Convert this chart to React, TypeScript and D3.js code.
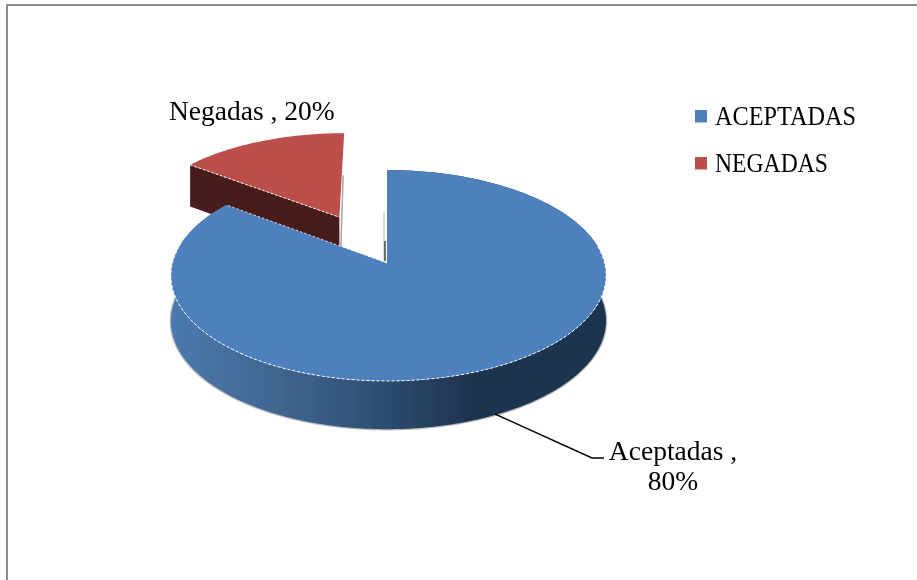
import * as d3 from "d3";

const width = 917;
const height = 580;

// legend names, and the text printed on the slices
const categories = ["ACEPTADAS", "NEGADAS"];
const legendWidths = [141, 113];
const sliceLabels = ["Aceptadas ,", "Negadas , 20%"];
const secondLine = "80%";
// shares as they are actually drawn (the printed labels say 80 / 20)
const sliceShares = [85.2, 14.8];
const explode = [0, 0.52];

const topColors = ["#4e80bc", "#bd4f4b"];
const fontFamily = "'Liberation Serif', serif";

// perspective tilt of the pie: unit circle -> screen
const origin = { x: 387, y: 263 };
const scaleU = 216;
const scaleV = 104;
const tilt = -0.1185;

type Pt = [number, number];

function project(u: number, v: number, drop = 0): Pt {
    const w = 1 + tilt * v;
    const depth = drop ? 45 + 3.2 * v : 0;
    // the rim sits a bit right of the apex in the reference, hence the u*u term
    return [origin.x + (scaleU * u) / w + 1.5 * u * u, origin.y + (scaleV * v) / w + depth];
}

function rimPoints(a0: number, a1: number, off: Pt, drop = 0): Pt[] {
    const n = Math.max(2, Math.ceil(Math.abs(a1 - a0) * 60));
    return d3
        .range(n + 1)
        .map((i) => a0 + ((a1 - a0) * i) / n)
        .map((a) => project(off[0] + Math.sin(a), off[1] - Math.cos(a), drop));
}

const line = d3.line<Pt>();

export default function App() {
    const arcs = d3.pie<number>().sort(null)(sliceShares);

    const offsets: Pt[] = arcs.map((d, i) => {
        const mid = (d.startAngle + d.endAngle) / 2;
        return [Math.sin(mid) * explode[i], -Math.cos(mid) * explode[i]];
    });

    const blue = arcs[0];
    const red = arcs[1];
    const redOff = offsets[1];

    // top faces
    const topPath = (i: number) => {
        const d = arcs[i];
        const c = project(offsets[i][0], offsets[i][1]);
        return line([c, ...rimPoints(d.startAngle, d.endAngle, offsets[i])]) + "Z";
    };

    // round wall of the big slice
    const blueRim = rimPoints(blue.startAngle, blue.endAngle, offsets[0]);
    const blueRimLow = rimPoints(blue.startAngle, blue.endAngle, offsets[0], 1);
    const blueWall = line([...blueRim, ...blueRimLow.reverse()]) + "Z";
    const blueLow = rimPoints(Math.PI * 0.3, blue.endAngle - 0.4, offsets[0], 1);

    // front edge of the big slice, with the white dashes
    const blueFront = line(rimPoints(Math.PI * 0.45, Math.PI * 1.56, offsets[0]));
    const blueCut = line([
        project(0, 0),
        project(Math.sin(blue.endAngle), -Math.cos(blue.endAngle)),
    ]);

    // cut wall of the small slice
    const redCentre = project(redOff[0], redOff[1]);
    const redCentreLow = project(redOff[0], redOff[1], 1);
    const redCorner = project(
        redOff[0] + Math.sin(red.startAngle),
        redOff[1] - Math.cos(red.startAngle)
    );
    const redCornerLow = project(
        redOff[0] + Math.sin(red.startAngle),
        redOff[1] - Math.cos(red.startAngle),
        1
    );
    const redWall = line([redCorner, redCentre, redCentreLow, redCornerLow]) + "Z";
    const redEdge = line([redCorner, redCentre]);

    // thin grey slivers next to the two vertical cuts
    const redTopRight = project(redOff[0], redOff[1] - 1);
    const blueTop = project(0, -1);

    return (
        <svg
            width={width}
            height={height}
            style={{ position: "absolute", left: 0, top: 0, background: "#fff" }}
            fontFamily={fontFamily}
        >
            <defs>
                <linearGradient id="wall" gradientUnits="userSpaceOnUse" x1={172} x2={606} y1={0} y2={0}>
                    <stop offset="0" stopColor="#4b79ae" />
                    <stop offset="0.25" stopColor="#3f668f" />
                    <stop offset="0.5" stopColor="#2d4b70" />
                    <stop offset="0.68" stopColor="#1f3450" />
                    <stop offset="1" stopColor="#1f3450" />
                </linearGradient>
                <filter id="soft" x="0" y="0" width="100%" height="100%">
                    <feGaussianBlur stdDeviation={0.45} />
                </filter>
            </defs>

            <path d="M917,5H7V580" fill="none" stroke="#8c8c8c" strokeWidth={2} />

            <g filter="url(#soft)">
                <path d={redWall} fill="#4a1e1c" />
                <path d={topPath(1)} fill={topColors[1]} />
                <path d={redEdge ?? ""} fill="none" stroke="#fff" strokeWidth={1} strokeDasharray="2.5 2" />
                <path
                    d={`M${redTopRight[0] - 1},${redTopRight[1] + 42}L${redCentreLow[0] + 1},${redCentreLow[1]}`}
                    fill="none"
                    stroke="#a8a8a8"
                    strokeWidth={1.5}
                />
                <path
                    d={`M${blueTop[0] - 3},${blueTop[1] + 42}L${origin.x - 3},${origin.y - 2}`}
                    fill="none"
                    stroke="#b4b4b4"
                    strokeWidth={1}
                />
                <path
                    d={`M${origin.x - 2},${origin.y - 22}L${origin.x - 2},${origin.y - 2}`}
                    fill="none"
                    stroke="#3a4654"
                    strokeWidth={1.5}
                />

                <path d={line(blueLow) ?? ""} fill="none" stroke="#b9b9b9" strokeWidth={2.5} />
                <path d={blueWall} fill="url(#wall)" />
                <path d={topPath(0)} fill={topColors[0]} />
                <path d={blueFront ?? ""} fill="none" stroke="#fff" strokeWidth={1} strokeDasharray="3 2" />
                <path d={blueCut ?? ""} fill="none" stroke="#fff" strokeWidth={0.8} strokeDasharray="2.5 2" />

                <path d="M495,414L592,458H604" fill="none" stroke="#000" strokeWidth={1.5} />

                <g fontSize={27.5} fill="#000">
                    <text x={169} y={120}>{sliceLabels[1]}</text>
                    <text x={673} y={460} textAnchor="middle">{sliceLabels[0]}</text>
                    <text x={673} y={490} textAnchor="middle">{secondLine}</text>
                </g>

                {categories.map((c, i) => (
                    <g key={c} transform={`translate(0,${i * 47})`}>
                        <rect x={695} y={110} width={12} height={12.5} fill={topColors[i]} />
                        <text
                            x={715}
                            y={125}
                            fontSize={26.5}
                            fill="#000"
                            textLength={legendWidths[i]}
                            lengthAdjust="spacingAndGlyphs"
                        >
                            {c}
                        </text>
                    </g>
                ))}
            </g>
        </svg>
    );
}
